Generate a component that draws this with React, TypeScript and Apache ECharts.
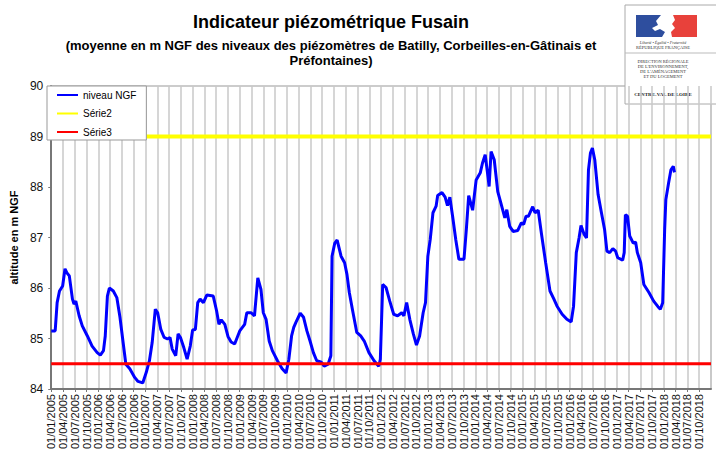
import React, { useEffect, useRef } from "react";
import * as echarts from "echarts";

// Months elapsed since 01/01/2005 and the mean groundwater level (m NGF)
const months = [
  0, 1, 1.5, 2.1, 2.9, 3.5, 4.0, 4.6, 5.4, 5.8, 6.25, 7.1, 7.9, 9.2, 10.4, 11.7, 12.5, 13.3, 13.75, 14.3,
  14.8, 15.8, 16.7, 17.5, 18.3, 19, 20, 21.25, 22.1, 23.3, 24.2, 25, 25.7, 26.5, 27.1, 27.9, 28.75, 29.6,
  30.25, 30.8, 31.7, 32.3, 32.9, 33.75, 34.6, 35.4, 36, 36.7, 37.3, 37.9, 38.75, 39.6, 41.25, 42.1, 42.7,
  43.3, 44.2, 45, 45.8, 46.7, 47.5,
  48, 49.25, 49.8, 50.9, 51.75, 52.6, 53.4, 54, 54.7, 55.5, 56.3, 57.6, 58.8, 59.8, 60.5, 61.2, 61.75,
  62.3, 63.4, 64.25, 65.1, 65.9, 66.75, 67.6, 68.8, 69.5, 70.5, 71.2, 71.5, 72.2, 72.8, 73.8, 74.7, 75.3,
  75.9, 76.75, 77.8, 78.8, 79.7, 80.9, 82.2, 83.4, 83.8, 84.4, 85.25, 86.2, 87.2, 88.2, 89.25, 89.8, 90.5,
  91.3, 92.2, 93, 93.8, 94.7, 95.3, 95.9, 96.5, 97.2, 98, 98.4, 99.5, 100.3,
  100.9, 101.5, 102.2, 103, 103.8, 105.1, 105.7, 106.3, 107.3, 108.2, 109.25, 109.8, 110.5, 111.2, 111.5,
  112, 112.8, 113.7, 114.5, 115.5, 116, 116.75, 117.6, 118.8, 119.7, 120.3, 120.9, 121.5, 122.6, 123.2,
  124, 124.8, 125.9, 127, 128, 128.8, 130.1, 131.3, 132.4, 133, 133.7, 134.4, 134.9, 135.7, 136.3, 136.8,
  137.3, 137.8, 138.4, 139.25, 140.1, 140.9, 141.5, 142.2, 143, 143.7, 144.25, 145.5, 145.9, 146.2, 146.75,
  147.3, 148.2, 148.8, 149.25, 150.1, 150.9, 152.2, 153.4, 154.5, 155.1, 155.7, 156.2, 156.5, 157.2, 157.8,
  158.4, 158.7,
];
const levels = [
  85.15, 85.15, 85.71, 85.94, 86.04, 86.38, 86.3, 86.24, 85.78, 85.68, 85.74, 85.45, 85.25, 85.05, 84.85,
  84.72, 84.67, 84.76, 85.05, 85.84, 86.0, 85.94, 85.81, 85.42, 84.92, 84.49, 84.4, 84.23, 84.15, 84.12,
  84.33, 84.56, 84.92, 85.58, 85.51, 85.18, 85.02, 84.99, 85.02, 84.79, 84.66, 85.09, 85.02, 84.82, 84.59,
  84.85, 85.17, 85.18, 85.71, 85.78, 85.71, 85.86, 85.84, 85.55, 85.28, 85.37, 85.28, 85.04, 84.93, 84.89,
  85.05,
  85.15, 85.28, 85.51, 85.51, 85.45, 86.2, 85.97, 85.51, 85.38, 84.95, 84.76, 84.56, 84.4, 84.32, 84.59,
  85.05, 85.22, 85.32, 85.5, 85.42, 85.15, 84.95, 84.72, 84.56, 84.53, 84.45, 84.49, 84.66, 86.63, 86.89,
  86.95, 86.63, 86.5, 86.27, 85.91, 85.55, 85.12, 85.05, 84.95, 84.72, 84.56, 84.45, 84.59, 86.07, 86.01,
  85.74, 85.48, 85.45, 85.51, 85.45, 85.71, 85.38, 85.09, 84.87, 85.05, 85.51, 85.71, 86.63, 86.96, 87.49,
  87.62, 87.83, 87.89, 87.8,
  87.63, 87.8, 87.42, 86.96, 86.57, 86.57, 87.16, 87.83, 87.54, 88.14, 88.28, 88.47, 88.64, 88.21, 88.01,
  88.7, 88.54, 87.91, 87.68, 87.39, 87.55, 87.22, 87.12, 87.14, 87.29, 87.26, 87.42, 87.42, 87.61, 87.49,
  87.54, 87.09, 86.5, 85.94, 85.78, 85.64, 85.48, 85.38, 85.33, 85.64, 86.7, 86.99, 87.24, 87.06, 86.99,
  88.34, 88.67, 88.77, 88.54, 87.85, 87.49, 87.16, 86.73, 86.7, 86.78, 86.73, 86.6, 86.55, 86.7, 87.45,
  87.42, 87.03, 86.89, 86.91, 86.7, 86.5, 86.07, 85.91, 85.74, 85.63, 85.58, 85.71, 87.16, 87.75, 88.08,
  88.34, 88.41, 88.29,
];
const serie2Level = 89;
const serie3Level = 84.5;

const tickYears = [2005, 2006, 2007, 2008, 2009, 2010, 2011, 2012, 2013, 2014, 2015, 2016, 2017, 2018];
const tickMonths = ["01", "04", "07", "10"];
const tickLabels: string[] = [];
tickYears.forEach((y) => tickMonths.forEach((mm) => tickLabels.push(`01/${mm}/${y}`)));

const seriesNames = ["niveau NGF", "Série2", "Série3"];
const FONT = "'Liberation Sans', Arial, sans-serif";
const SERIF = "'Liberation Serif', 'DejaVu Serif', serif";

export default function App() {
  const ref = useRef<HTMLDivElement>(null);
  useEffect(() => {
    if (!ref.current) return;
    const chart = echarts.init(ref.current, null, { renderer: "svg" });
    const xMax = 168;
    const logoX = 663;
    const smallText = (text: string, y: number, extra: any = {}) => ({
      type: "text",
      x: logoX,
      y,
      style: {
        text,
        fontFamily: SERIF,
        fontSize: 4.5,
        fill: "#333",
        textAlign: "center",
        textVerticalAlign: "middle",
        ...extra,
      },
    });
    chart.setOption({
      animation: false,
      backgroundColor: "#fff",
      grid: {
        left: 38,
        right: 5,
        top: 86,
        bottom: 70,
        show: true,
        borderColor: "#999",
        borderWidth: 1,
        backgroundColor: "transparent",
      },
      legend: {
        data: seriesNames,
        orient: "vertical",
        left: 47,
        top: 86,
        backgroundColor: "#fff",
        borderColor: "#999",
        borderWidth: 1,
        borderRadius: 0,
        padding: [2, 10, 1, 10],
        itemGap: 4.5,
        itemWidth: 21,
        itemHeight: 2,
        icon: "rect",
        textStyle: { fontFamily: FONT, fontSize: 10, color: "#000", lineHeight: 14 },
      },
      xAxis: {
        type: "value",
        min: 0,
        max: xMax,
        interval: 3,
        axisLine: { show: true, onZero: false, lineStyle: { color: "#777", width: 2 } },
        axisTick: { show: true, length: 3, lineStyle: { color: "#777" } },
        splitLine: { show: true, lineStyle: { color: "#c8c8c8", width: 1.5 } },
        axisLabel: {
          rotate: 90,
          margin: 5,
          showMaxLabel: false,
          fontFamily: FONT,
          fontSize: 11,
          color: "#111",
          formatter: (v: number) => tickLabels[Math.round(v / 3)] ?? "",
        },
      },
      yAxis: {
        type: "value",
        min: 84,
        max: 90,
        interval: 1,
        name: "altitude en m NGF",
        nameLocation: "middle",
        nameRotate: 90,
        nameGap: 21,
        nameTextStyle: { fontFamily: FONT, fontSize: 11, fontWeight: "bold", color: "#000" },
        axisLine: { show: true, lineStyle: { color: "#777", width: 2 } },
        axisTick: { show: true, length: 3, lineStyle: { color: "#777" } },
        splitLine: { show: false },
        axisLabel: { fontFamily: FONT, fontSize: 12, color: "#111", margin: 8 },
      },
      series: [
        {
          name: seriesNames[0],
          type: "line",
          data: months.map((m, i) => [m, levels[i]]),
          symbol: "none",
          lineStyle: { color: "#0000ff", width: 3 },
          itemStyle: { color: "#0000ff" },
          z: 2,
        },
        {
          name: seriesNames[1],
          type: "line",
          data: [
            [0, serie2Level],
            [xMax, serie2Level],
          ],
          symbol: "none",
          lineStyle: { color: "#ffff00", width: 4 },
          itemStyle: { color: "#ffff00" },
          z: 3,
        },
        {
          name: seriesNames[2],
          type: "line",
          data: [
            [0, serie3Level],
            [xMax, serie3Level],
          ],
          symbol: "none",
          lineStyle: { color: "#ff0000", width: 3 },
          itemStyle: { color: "#ff0000" },
          z: 4,
        },
      ],
      graphic: [
        {
          type: "text",
          x: 331,
          y: 22,
          style: {
            text: "Indicateur piézométrique Fusain",
            fontFamily: FONT,
            fontSize: 18,
            fontWeight: "bold",
            fill: "#000",
            textAlign: "center",
            textVerticalAlign: "middle",
          },
        },
        {
          type: "text",
          x: 331,
          y: 45,
          style: {
            text: "(moyenne en m NGF des niveaux des piézomètres de Batilly, Corbeilles-en-Gâtinais et",
            fontFamily: FONT,
            fontSize: 13,
            fontWeight: "bold",
            fill: "#000",
            textAlign: "center",
            textVerticalAlign: "middle",
          },
        },
        {
          type: "text",
          x: 331,
          y: 60,
          style: {
            text: "Préfontaines)",
            fontFamily: FONT,
            fontSize: 13,
            fontWeight: "bold",
            fill: "#000",
            textAlign: "center",
            textVerticalAlign: "middle",
          },
        },
        {
          type: "group",
          z: 100,
          children: [
            {
              type: "rect",
              shape: { x: 625, y: 5, width: 95, height: 99 },
              style: { fill: "#fff", stroke: "#aaa", lineWidth: 1 },
            },
            { type: "rect", shape: { x: 636, y: 15, width: 34, height: 22 }, style: { fill: "#2e4e9e" } },
            { type: "rect", shape: { x: 671, y: 15, width: 26, height: 22 }, style: { fill: "#e8413b" } },
            {
              type: "polygon",
              shape: {
                points: [
                  [661, 15], [673, 15], [675, 20], [672, 24], [675, 28], [671, 32], [672, 37],
                  [662, 37], [665, 32], [660, 29], [655, 31], [652, 28], [658, 25], [656, 21],
                ],
              },
              style: { fill: "#fff" },
            },
            smallText("Liberté • Égalité • Fraternité", 42, { fontStyle: "italic", fontSize: 4 }),
            smallText("RÉPUBLIQUE FRANÇAISE", 47.5, { fontSize: 4.5 }),
            { type: "line", shape: { x1: 625, y1: 53, x2: 716, y2: 53 }, style: { stroke: "#bbb", lineWidth: 1 } },
            smallText("DIRECTION RÉGIONALE", 61),
            smallText("DE L'ENVIRONNEMENT,", 66),
            smallText("DE L'AMÉNAGEMENT", 71),
            smallText("ET DU LOGEMENT", 76),
            smallText("CENTRE-VAL DE LOIRE", 94, { fontWeight: "bold", fill: "#222", fontSize: 5 }),
          ],
        },
      ],
    });
    return () => chart.dispose();
  }, []);
  return (
    <div
      ref={ref}
      style={{ position: "absolute", left: 0, top: 0, width: 716, height: 459 }}
    />
  );
}
